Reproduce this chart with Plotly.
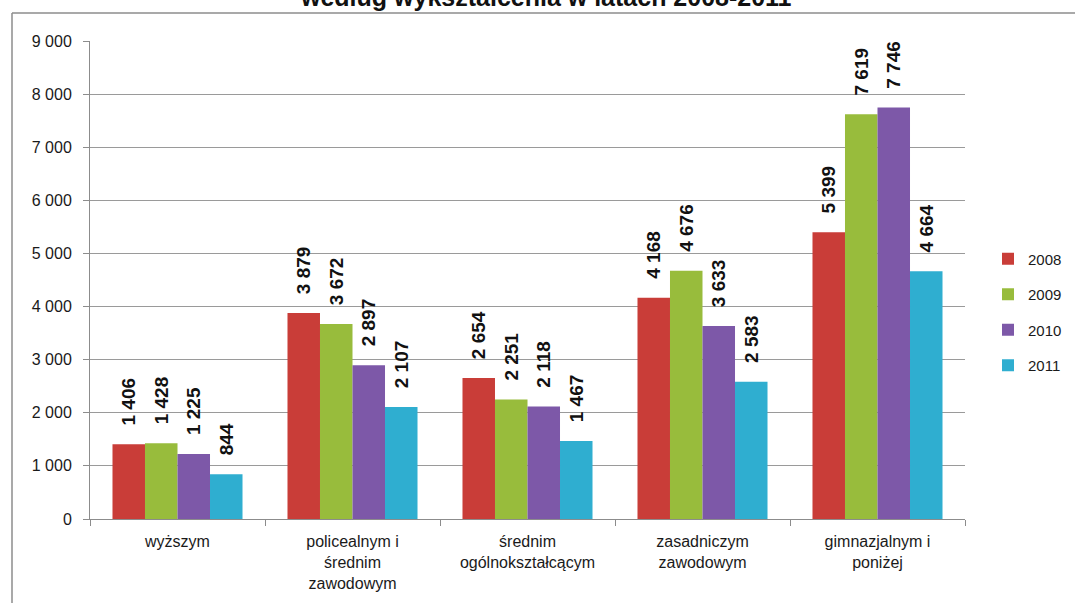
import plotly.graph_objects as go

categories = ["wyższym", "policealnym i<br>średnim<br>zawodowym", "średnim<br>ogólnokształcącym",
              "zasadniczym<br>zawodowym", "gimnazjalnym i<br>poniżej"]
years = ["2008", "2009", "2010", "2011"]
v2008 = [1406, 3879, 2654, 4168, 5399]
v2009 = [1428, 3672, 2251, 4676, 7619]
v2010 = [1225, 2897, 2118, 3633, 7746]
v2011 = [844, 2107, 1467, 2583, 4664]
series = [v2008, v2009, v2010, v2011]
colors = ["#C93D38", "#98BC3C", "#7D58A8", "#2FAED0"]
title_text = "według wykształcenia w latach 2008-2011"

FONT = "Liberation Sans, Arial, sans-serif"


def fmt(v):
    # leading no-break spaces give the gap between bar top and rotated label
    return "\u00a0\u00a0\u00a0" + f"{v:,}".replace(",", " ")


fig = go.Figure()
for i, (yr, vals) in enumerate(zip(years, series)):
    fig.add_trace(go.Bar(
        x=categories, y=vals, name=yr,
        marker=dict(color=colors[i], line=dict(width=0)),
        text=[fmt(v) for v in vals],
        textposition="outside", textangle=-90, constraintext="none",
        cliponaxis=False,
        textfont=dict(family=FONT, size=19, color="#111111", weight="bold"),
        legendgroup=yr,
    ))

L, R, T, B = 90, 110, 41, 84
W, H = 1075, 603
pw, ph = W - L - R, H - T - B


def px_x(p):
    return (p - L) / pw


def px_y(p):
    return (H - B - p) / ph


fig.update_layout(
    width=W, height=H,
    margin=dict(l=L, r=R, t=T, b=B, autoexpand=False),
    paper_bgcolor="white", plot_bgcolor="white",
    separators=", ",
    barmode="group", bargap=0.257, bargroupgap=0,
    font=dict(family=FONT, size=15, color="#1a1a1a"),
    showlegend=True,
    legend=dict(x=px_x(988), y=px_y(312), xanchor="left", yanchor="middle",
                font=dict(size=15, color="#1a1a1a"), tracegroupgap=13,
                itemwidth=30, bgcolor="rgba(0,0,0,0)"),
    xaxis=dict(showgrid=False, showline=True, linecolor="#8c8c8c", linewidth=1,
               ticks="outside", tickson="boundaries", ticklen=6, tickcolor="#8c8c8c",
               tickfont=dict(size=16), ticklabelstandoff=8, fixedrange=True),
    yaxis=dict(range=[0, 9000], dtick=1000, tickformat=",d", showgrid=True,
               gridcolor="#9a9a9a", gridwidth=1, showline=True, linecolor="#8c8c8c",
               ticks="outside", ticklen=6, tickcolor="#8c8c8c", zeroline=False,
               tickfont=dict(size=16), ticklabelstandoff=8, fixedrange=True),
    shapes=[
        dict(type="line", xref="paper", yref="paper", x0=px_x(12), x1=px_x(1075),
             y0=px_y(13), y1=px_y(13), line=dict(color="#8c8c8c", width=1.5)),
        dict(type="line", xref="paper", yref="paper", x0=px_x(12), x1=px_x(12),
             y0=px_y(13), y1=px_y(603), line=dict(color="#8c8c8c", width=1.5)),
    ],
    annotations=[
        dict(text="<b>" + title_text + "</b>", xref="paper", yref="paper",
             x=px_x(546), y=px_y(13), xanchor="center", yanchor="bottom",
             showarrow=False, font=dict(size=25, color="#111111")),
    ],
)

fig.write_html("out.html", config={"displayModeBar": False},
               post_script="document.body.style.margin='0';document.body.style.overflow='hidden';")
